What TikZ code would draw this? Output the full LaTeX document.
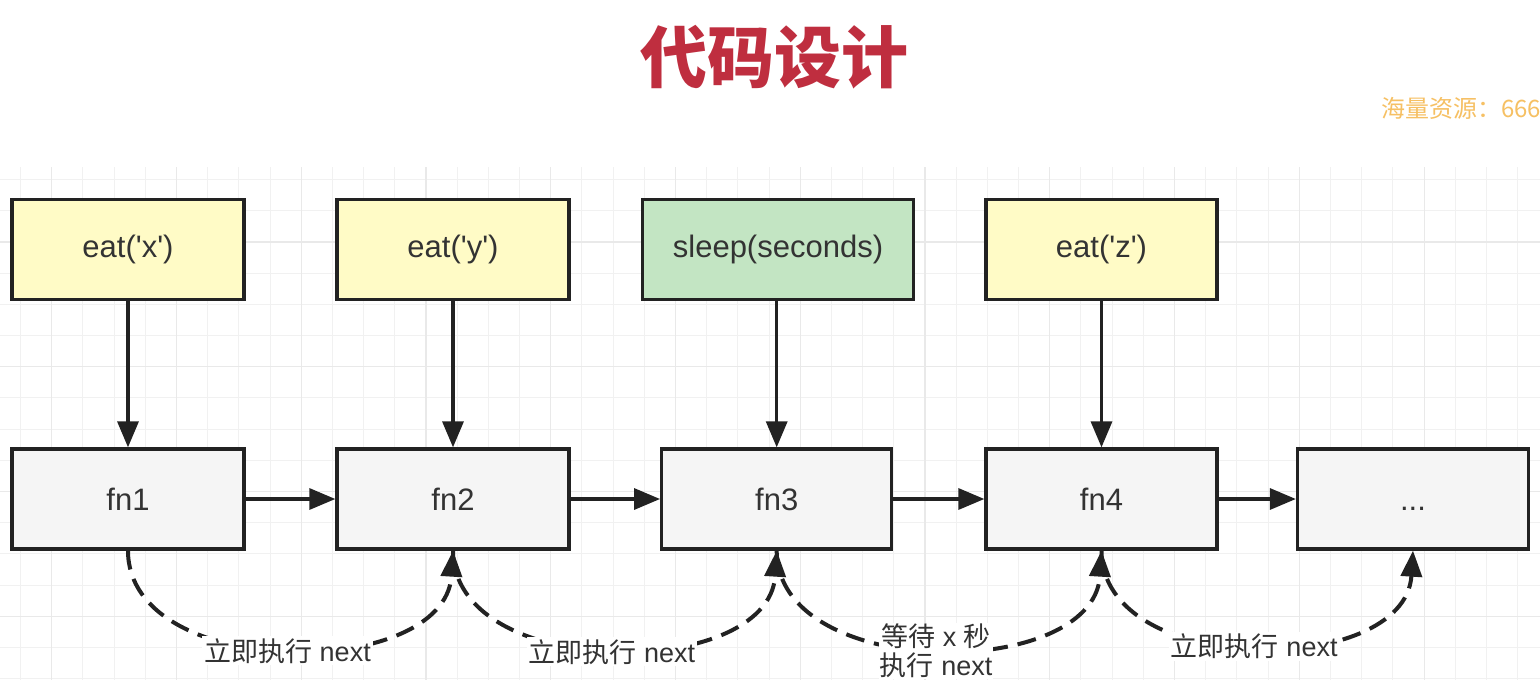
\documentclass[tikz,border=0pt]{standalone}
\usepackage{fontspec}
\setmainfont{Liberation Sans}
\newfontfamily\cjk{Noto Sans CJK SC}
\usetikzlibrary{arrows.meta}
\definecolor{boxline}{HTML}{222222}
\definecolor{yel}{HTML}{FFFBC6}
\definecolor{grn}{HTML}{C3E5C3}
\definecolor{gry}{HTML}{F5F5F5}
\definecolor{txt}{HTML}{333333}
\definecolor{titlered}{HTML}{BF2E3F}
\definecolor{wmcol}{HTML}{F6C063}
\definecolor{gridminor}{HTML}{F1F1F1}
\definecolor{gridmajor}{HTML}{E9E9E9}
\newcommand{\sq}{\textquotesingle}
\begin{document}
\begin{tikzpicture}[x=1pt,y=-1pt,
  box/.style={draw=boxline, line width=3.3pt, minimum height=100pt, inner sep=0pt, text=txt, font=\fontsize{31}{36}\selectfont},
  topbox/.style={box, fill=yel},
  fnbox/.style={box, fill=gry},
  solidarrow/.style={draw=boxline, line width=3.3pt, -{Triangle[length=26pt,width=21pt]}},
  dasharrow/.style={draw=boxline, line width=4pt, dash pattern=on 19pt off 10pt, -{Triangle[length=26pt,width=21pt]}},
  lbl/.style={fill=white, text=txt, inner sep=2pt, font=\fontsize{27}{29}\selectfont, align=center}
]
\useasboundingbox (0,0) rectangle (1540,680);
\fill[white] (0,0) rectangle (1540,680);
\begin{scope}
\clip (0,0) rectangle (1540,680);
% grid
\foreach \i in {0,...,48} { \draw[gridminor, line width=1pt] ({20.5+31.19*\i},167) -- ({20.5+31.19*\i},680); }
\foreach \j in {0,...,16} { \draw[gridminor, line width=1pt] (0,{179.6+31.19*\j}) -- (1540,{179.6+31.19*\j}); }
\foreach \m in {0,...,11} { \draw[gridmajor, line width=1.1pt] ({51.7+124.76*\m},167) -- ({51.7+124.76*\m},680); }
\foreach \m in {0,...,3} { \draw[gridmajor, line width=1.1pt] (0,{242+124.76*\m}) -- (1540,{242+124.76*\m}); }
% watermark
\node[anchor=west, text=wmcol, inner sep=0pt, font=\cjk\fontsize{24}{28}\selectfont] (wm) at (1381,108) {海量资源：666};
\end{scope}
% title
\node[text=titlered, inner sep=0pt, font=\cjk\bfseries\fontsize{67}{72}\selectfont] (title) at (774,57) {代码设计};
% top boxes
\node[topbox, minimum width=232pt] (eatx) at (128,249.5) {eat(\sq x\sq)};
\node[topbox, minimum width=232pt] (eaty) at (453,249.5) {eat(\sq y\sq)};
\node[box, fill=grn, minimum width=271pt] (sleep) at (778,249.5) {sleep(seconds)};
\node[topbox, minimum width=231pt] (eatz) at (1101.5,249.5) {eat(\sq z\sq)};
% fn boxes
\node[fnbox, minimum width=232pt] (fn1) at (128,499) {fn1};
\node[fnbox, minimum width=232pt] (fn2) at (453,499) {fn2};
\node[fnbox, minimum width=230pt] (fn3) at (776.7,499) {fn3};
\node[fnbox, minimum width=231pt] (fn4) at (1101.5,499) {fn4};
\node[fnbox, minimum width=231pt] (fn5) at (1413,499) {\vphantom{fn1}...};
% vertical arrows
\draw[solidarrow] (eatx.south) -- (fn1.north);
\draw[solidarrow] (eaty.south) -- (fn2.north);
\draw[solidarrow] (fn3.north |- sleep.south) -- (fn3.north);
\draw[solidarrow] (eatz.south) -- (fn4.north);
% horizontal arrows
\draw[solidarrow] (fn1.east) -- (fn2.west);
\draw[solidarrow] (fn2.east) -- (fn3.west);
\draw[solidarrow] (fn3.east) -- (fn4.west);
\draw[solidarrow] (fn4.east) -- (fn5.west);
% dashed curves
\draw[dasharrow] (fn1.south) .. controls +(0,131) and +(-8,131) .. (fn2.south)
  node[lbl, pos=0.5, yshift=-2pt] (l1) {{\cjk 立即执行} next};
\draw[dasharrow] (fn2.south) .. controls +(0,131) and +(-8,131) .. (fn3.south)
  node[lbl, pos=0.5, yshift=-3pt] (l2) {{\cjk 立即执行} next};
\draw[dasharrow] (fn3.south) .. controls +(0,131) and +(-8,131) .. (fn4.south)
  node[lbl, pos=0.5, yshift=-2pt, inner sep=1pt] (l3) {{\cjk 等待} x {\cjk 秒}\\{\cjk 执行} next};
\draw[dasharrow] (fn4.south) .. controls +(0,128) and +(-8,128) .. (fn5.south)
  node[lbl, pos=0.5, yshift=0pt] (l4) {{\cjk 立即执行} next};
\end{tikzpicture}
\end{document}
